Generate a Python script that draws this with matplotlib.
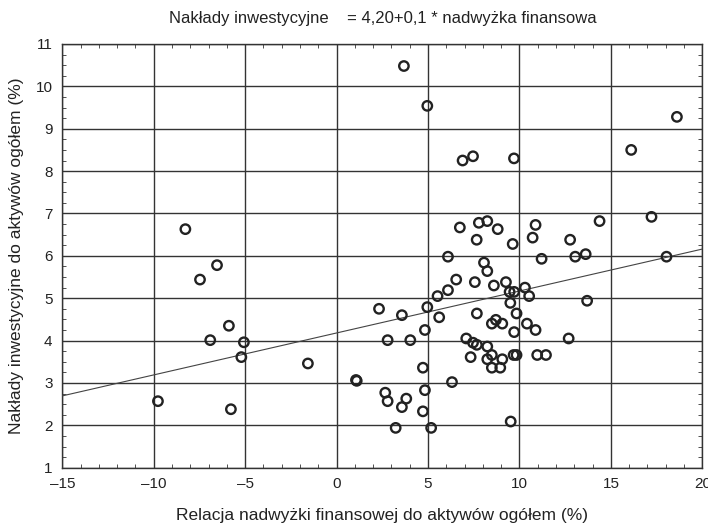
"""
Nakłady inwestycyjne vs relacja nadwyżki finansowej - scatter with fit line.
"""

import numpy as np
import matplotlib.pyplot as plt
from matplotlib.ticker import MultipleLocator, FuncFormatter

plt.rcParams['font.family'] = ['Liberation Sans', 'DejaVu Sans']

#
#  Data
#

surplus = [-8.27, -7.47, -6.54, -5.89, -6.91, -5.07, -5.21, -1.57, 1.06, 1.10,
           -9.77, -5.78,
           3.68, 4.96, 18.61, 6.89, 7.46, 9.70, 16.11, 17.22, 14.38,
           6.74, 7.78, 8.24, 8.81, 7.66, 9.63, 10.88, 10.72, 12.77,
           6.09, 8.06, 8.24, 11.21, 13.05, 13.62, 18.04,
           6.54, 7.56, 8.60, 9.26, 6.09, 5.52, 9.46, 9.71, 10.30, 10.53,
           13.70, 9.50, 2.32, 3.57, 4.96, 5.61, 7.67, 9.84,
           8.49, 8.71, 9.06, 10.41, 10.88, 9.71, 4.83,
           2.79, 4.03, 7.09, 7.46, 7.67, 8.24, 12.69,
           7.33, 8.49, 8.24, 9.06, 9.68, 9.84, 10.97, 11.45,
           8.49, 8.95, 4.72, 6.31,
           2.66, 2.79, 3.81, 3.57, 4.83, 4.72, 3.23, 5.17, 9.52]

invest = [6.63, 5.44, 5.78, 4.35, 4.01, 3.96, 3.61, 3.46, 3.07, 3.05,
          2.57, 2.38,
          10.48, 9.54, 9.28, 8.25, 8.35, 8.30, 8.50, 6.92, 6.82,
          6.67, 6.78, 6.82, 6.63, 6.38, 6.28, 6.73, 6.43, 6.38,
          5.98, 5.84, 5.64, 5.93, 5.98, 6.04, 5.98,
          5.44, 5.38, 5.30, 5.38, 5.19, 5.05, 5.15, 5.15, 5.25, 5.05,
          4.94, 4.89, 4.75, 4.60, 4.79, 4.55, 4.64, 4.64,
          4.40, 4.49, 4.40, 4.40, 4.25, 4.20, 4.25,
          4.01, 4.01, 4.05, 3.95, 3.90, 3.86, 4.05,
          3.61, 3.66, 3.56, 3.56, 3.66, 3.66, 3.66, 3.66,
          3.36, 3.36, 3.36, 3.02,
          2.77, 2.57, 2.63, 2.43, 2.83, 2.33, 1.94, 1.94, 2.09]

fit_a = 4.18
fit_b = 0.099

x_ticks = [-15, -10, -5, 0, 5, 10, 15, 20]
y_ticks = list(range(1, 12))

#
#  Figure
#

fig = plt.figure(figsize=(7.08, 5.28), dpi=100)
ax = fig.add_axes([0.088, 0.1142, 0.904, 0.8025])

xs = np.array([-15, 20])
ax.plot(xs, fit_a + fit_b * xs, color='#444444', lw=0.8, zorder=3)

ax.scatter(surplus, invest, s=46, facecolors='none', edgecolors='#222222',
           linewidths=1.7, zorder=4)

ax.set_xlim(-15, 20)
ax.set_ylim(1, 11)
ax.set_xticks(x_ticks)
ax.set_yticks(y_ticks)
ax.xaxis.set_minor_locator(MultipleLocator(1))
ax.yaxis.set_minor_locator(MultipleLocator(0.25))
ax.xaxis.set_major_formatter(FuncFormatter(lambda v, p: f'{v:.0f}'.replace('-', '\u2013')))

ax.grid(True, which='major', color='#333333', lw=1.0)
ax.set_axisbelow(True)
ax.tick_params(which='both', direction='in', top=True, right=True,
               color='#333333', labelsize=11, labelcolor='#222222')
ax.tick_params(which='major', length=0, pad=7)
ax.tick_params(which='minor', length=3)
for sp in ax.spines.values():
    sp.set_color('#333333')
    sp.set_linewidth(1.0)

ax.set_title('Nakłady inwestycyjne    = 4,20+0,1 * nadwyżka finansowa',
             fontsize=12, pad=15, color='#222222')
ax.set_xlabel('Relacja nadwyżki finansowej do aktywów ogółem (%)',
              fontsize=12.5, labelpad=12, color='#222222')
ax.set_ylabel('Nakłady inwestycyjne do aktywów ogółem (%)', fontsize=12.5,
              labelpad=8, color='#222222')

fig.savefig('out.png', dpi=100)
